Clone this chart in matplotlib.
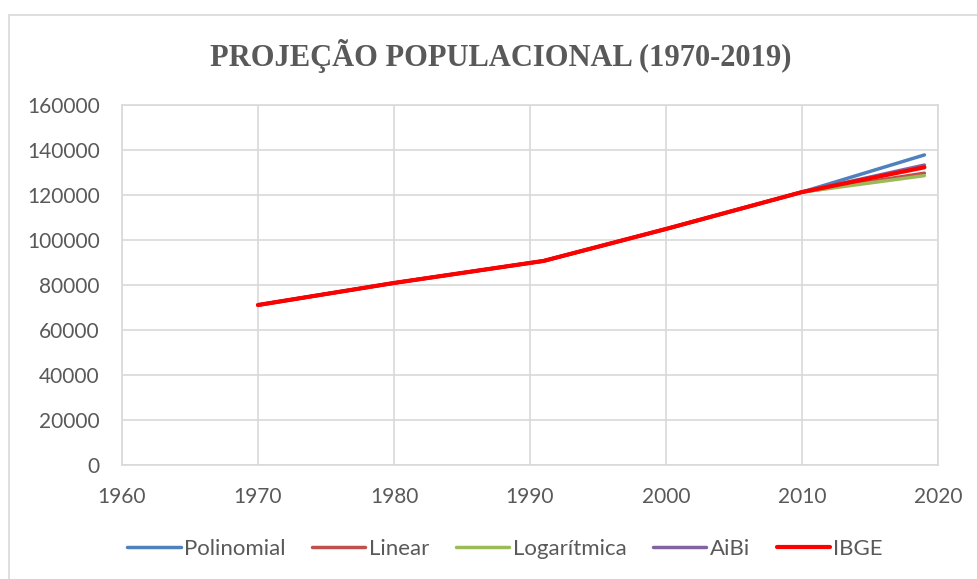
import matplotlib.pyplot as plt
from matplotlib.patches import Rectangle

anos = [1970, 1980, 1991, 2000, 2010, 2019]
base = [71100, 80900, 90700, 104900, 121300]

polinomial = base + [137800]
linear = base + [129700]
logaritmica = base + [128600]
aibi = base + [133300]
ibge = base + [132300]

series = [
    ("Polinomial", polinomial, "#4F81BD", 2.5),
    ("Linear", linear, "#C0504D", 2.5),
    ("Logarítmica", logaritmica, "#9BBB59", 2.5),
    ("AiBi", aibi, "#8064A2", 2.5),
    ("IBGE", ibge, "#FF0000", 3.0),
]

cinza = "#595959"
fonte = ["Lato", "DejaVu Sans"]

fig = plt.figure(figsize=(9.78, 5.79), dpi=100)
ax = fig.add_axes([122 / 978, 1 - 465 / 579, (938 - 122) / 978, (465 - 105) / 579])

for nome, vals, cor, lw in series:
    ax.plot(anos, vals, color=cor, lw=lw, label=nome, solid_capstyle="round")

ax.set_xlim(1960, 2020)
ax.set_ylim(0, 160000)
ax.set_xticks(range(1960, 2021, 10))
ax.set_yticks(range(0, 160001, 20000))
ax.grid(True, color="#d9d9d9", lw=1.2)
ax.set_axisbelow(True)
for s in ax.spines.values():
    s.set_color("#d9d9d9")
    s.set_linewidth(1.2)
ax.tick_params(length=0, labelsize=15, labelcolor=cinza)
ax.tick_params(axis="x", pad=16)
ax.tick_params(axis="y", pad=16)
for lab in ax.get_xticklabels() + ax.get_yticklabels():
    lab.set_family(fonte)

fig.text(501 / 978, 1 - 56 / 579, "PROJEÇÃO POPULACIONAL (1970-2019)", ha="center", va="center",
         fontsize=22, fontweight="bold", color=cinza, family=["Liberation Serif", "DejaVu Serif"])

leg = fig.legend(loc="center", bbox_to_anchor=(505 / 978, 1 - 549 / 579), ncol=5, frameon=False,
                 prop={"family": fonte, "size": 16}, handlelength=2.4, handletextpad=0.15,
                 columnspacing=1.2)
for t in leg.get_texts():
    t.set_color(cinza)

fig.patches.append(Rectangle((9 / 978, -0.1), 2, 1 - 15 / 579 + 0.1, transform=fig.transFigure,
                             fill=False, edgecolor="#d9d9d9", lw=1.2))

fig.savefig("out.png", dpi=100)
